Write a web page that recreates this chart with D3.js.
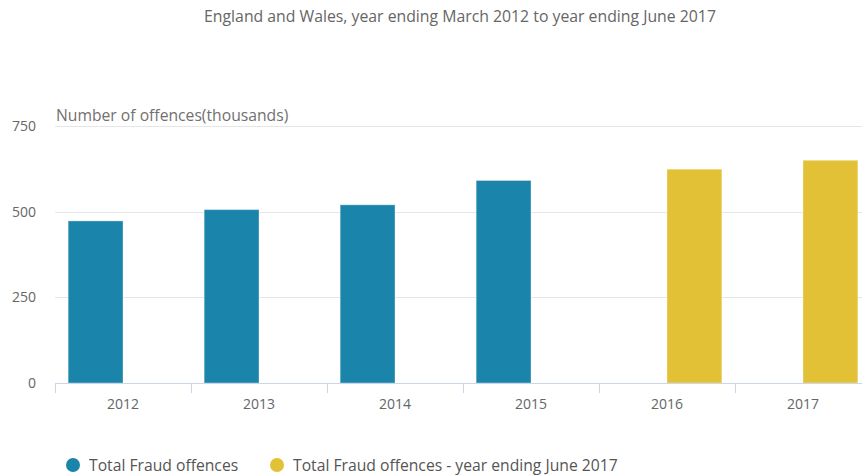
<!DOCTYPE html>
<html>
<head>
<meta charset="utf-8">
<script src="https://cdn.jsdelivr.net/npm/d3@7"></script>
<style>
  body { margin: 0; background: #fff; }
  svg { display: block; font-family: "Open Sans", sans-serif; }
</style>
</head>
<body>
<svg id="chart" width="862" height="476"></svg>
<script>
const years = ["2012", "2013", "2014", "2015", "2016", "2017"];
const fraudMarch = [473, 506, 520, 591, null, null];
const fraudJune = [null, null, null, null, 624, 650];
const seriesNames = ["Total Fraud offences", "Total Fraud offences - year ending June 2017"];
const seriesColors = ["#1a84ab", "#e3c136"];
const yTicks = [0, 250, 500, 750];

const width = 862;
const height = 476;
const margin = {top: 126, left: 55, bottom: 383};
const bandW = 136;

const svg = d3.select("#chart");

const x = d3.scaleBand()
    .domain(years)
    .range([margin.left, margin.left + bandW * years.length])
    .paddingInner(0).paddingOuter(0);

const xSub = d3.scaleBand()
    .domain([0, 1])
    .range([0, x.bandwidth()])
    .paddingOuter(0.24)
    .paddingInner(0);

const y = d3.scaleLinear()
    .domain([0, 750])
    .range([margin.bottom, margin.top]);

// title
svg.append("text")
    .attr("x", 460).attr("y", 22)
    .attr("text-anchor", "middle")
    .attr("font-size", 15.8)
    .attr("fill", "#666")
    .text("England and Wales, year ending March 2012 to year ending June 2017");

// grid
svg.append("g")
    .selectAll("line")
    .data(yTicks.filter(d => d > 0))
    .join("line")
        .attr("x1", margin.left).attr("x2", width)
        .attr("y1", d => Math.round(y(d)) + 0.5)
        .attr("y2", d => Math.round(y(d)) + 0.5)
        .attr("stroke", "#e6e6e6");

// y labels
svg.append("g")
    .selectAll("text")
    .data(yTicks)
    .join("text")
        .attr("x", 36)
        .attr("y", d => y(d) + 5)
        .attr("text-anchor", "end")
        .attr("font-size", 14)
        .attr("fill", "#666")
        .text(d => d);

// axis title
svg.append("text")
    .attr("x", 56).attr("y", 121)
    .attr("font-size", 15.7)
    .attr("fill", "#707070")
    .text("Number of offences(thousands)");

// bars
const series = [fraudMarch, fraudJune];
series.forEach((vals, si) => {
    svg.append("g")
        .selectAll("rect")
        .data(years.map((yr, i) => ({yr, v: vals[i]})).filter(d => d.v != null))
        .join("rect")
            .attr("x", d => x(d.yr) + xSub(si))
            .attr("width", xSub.bandwidth())
            .attr("y", d => y(d.v))
            .attr("height", d => y(0) - y(d.v))
            .attr("fill", seriesColors[si])
            .attr("stroke", "rgba(255,255,255,0.35)")
            .attr("stroke-width", 1);
});

// x axis
const xAxisG = svg.append("g");
xAxisG.append("line")
    .attr("x1", margin.left).attr("x2", width)
    .attr("y1", margin.bottom + 0.5).attr("y2", margin.bottom + 0.5)
    .attr("stroke", "#ccd6eb");

xAxisG.selectAll("line.tick")
    .data(d3.range(years.length + 1))
    .join("line")
        .attr("class", "tick")
        .attr("x1", i => Math.round(margin.left + i * bandW) + 0.5)
        .attr("x2", i => Math.round(margin.left + i * bandW) + 0.5)
        .attr("y1", margin.bottom)
        .attr("y2", margin.bottom + 10)
        .attr("stroke", "#ccd6eb");

xAxisG.selectAll("text")
    .data(years)
    .join("text")
        .attr("x", d => x(d) + x.bandwidth() / 2)
        .attr("y", 409)
        .attr("text-anchor", "middle")
        .attr("font-size", 14)
        .attr("fill", "#666")
        .text(d => d);

// legend
const legendX = [73, 277];
const legend = svg.append("g")
    .selectAll("g")
    .data(seriesNames)
    .join("g")
        .attr("transform", (d, i) => `translate(${legendX[i]},465)`);

legend.append("circle")
    .attr("r", 7)
    .attr("fill", (d, i) => seriesColors[i]);

legend.append("text")
    .attr("x", 16)
    .attr("y", 5.5)
    .attr("font-size", 15.7)
    .attr("fill", "#555")
    .text(d => d);
</script>
</body>
</html>
